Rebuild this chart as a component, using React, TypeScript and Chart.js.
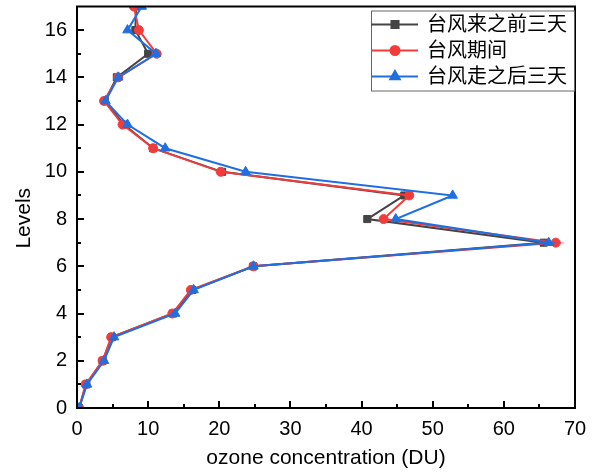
import React, { useEffect, useRef } from 'react';
import { Chart, registerables } from 'chart.js';
import { drawPoint } from 'chart.js/helpers';

Chart.register(...registerables);

// ---- data ----
const levels = [0, 1, 2, 3, 4, 5, 6, 7, 8, 9, 10, 11, 12, 13, 14, 15, 16, 17];
const beforeValues = [0.3, 1.3, 3.6, 4.9, 13.5, 16.2, 24.8, 65.6, 40.8, 46.0, 20.4, 10.7, 6.6, 3.9, 5.6, 10.0, 8.2, 8.3];
const duringValues = [0.3, 1.2, 3.6, 4.8, 13.4, 16.0, 24.8, 67.3, 43.1, 46.7, 20.2, 10.7, 6.4, 3.8, 5.8, 11.2, 8.7, 8.0];
const afterValues = [0.3, 1.4, 3.8, 5.2, 13.8, 16.4, 24.8, 66.3, 44.8, 52.8, 23.7, 12.4, 7.1, 4.0, 5.8, 11.1, 7.1, 9.1];
const seriesNames = ['台风来之前三天', '台风期间', '台风走之后三天'];
const xMajorTicks = [0, 10, 20, 30, 40, 50, 60, 70];
const xMinorTicks = [5, 15, 25, 35, 45, 55, 65];
const yMajorTicks = [0, 2, 4, 6, 8, 10, 12, 14, 16];
const yMinorTicks = [1, 3, 5, 7, 9, 11, 13, 15];
const xTitle = 'ozone concentration (DU)';
const yTitle = 'Levels';

const colors = ['#444444', '#f23c3c', '#1f6fe0'];
const pointStyles = ['rect', 'circle', 'triangle'];
const pointRadii = [5, 4.5, 5.5];

const FONT = '"Liberation Sans", Arial, sans-serif';
const CJK_FONT = '"Liberation Sans", "Noto Sans CJK SC", sans-serif';

const framePlugin = {
  id: 'frame',
  afterDatasetsDraw(chart: any) {
    const { ctx, chartArea, scales } = chart;
    const { left, right, top, bottom } = chartArea;
    const x = scales.x;
    const y = scales.y;
    ctx.save();
    ctx.strokeStyle = '#000';
    ctx.lineWidth = 2;
    ctx.beginPath();
    xMajorTicks.forEach((v) => {
      const px = Math.round(x.getPixelForValue(v));
      ctx.moveTo(px, bottom);
      ctx.lineTo(px, bottom - 7);
    });
    xMinorTicks.forEach((v) => {
      const px = Math.round(x.getPixelForValue(v));
      ctx.moveTo(px, bottom);
      ctx.lineTo(px, bottom - 4);
    });
    yMajorTicks.forEach((v) => {
      const py = Math.round(y.getPixelForValue(v));
      ctx.moveTo(left, py);
      ctx.lineTo(left + 7, py);
    });
    yMinorTicks.forEach((v) => {
      const py = Math.round(y.getPixelForValue(v));
      ctx.moveTo(left, py);
      ctx.lineTo(left + 4, py);
    });
    ctx.stroke();
    ctx.strokeRect(left, top, right - left, bottom - top);

    // y title
    ctx.fillStyle = '#000';
    ctx.font = `21px ${FONT}`;
    ctx.textAlign = 'center';
    ctx.textBaseline = 'middle';
    ctx.translate(24, (top + bottom) / 2 + 11);
    ctx.rotate(-Math.PI / 2);
    ctx.fillText(yTitle, 0, 0);
    ctx.restore();
  },
};

const legendPlugin = {
  id: 'boxLegend',
  afterDraw(chart: any) {
    const { ctx, chartArea } = chart;
    const boxW = 203;
    const boxH = 80;
    const bx = chartArea.right - boxW - 1;
    const by = chartArea.top + 4;
    ctx.save();
    ctx.fillStyle = '#fff';
    ctx.fillRect(bx, by, boxW, boxH);
    ctx.strokeStyle = '#666';
    ctx.lineWidth = 1;
    ctx.strokeRect(bx + 0.5, by + 0.5, boxW, boxH);
    chart.data.datasets.forEach((ds: any, i: number) => {
      const cy = by + 14 + i * 26;
      ctx.strokeStyle = ds.borderColor;
      ctx.lineWidth = 2;
      ctx.beginPath();
      ctx.moveTo(bx, cy);
      ctx.lineTo(bx + 47, cy);
      ctx.stroke();
      ctx.fillStyle = ds.pointBackgroundColor;
      ctx.strokeStyle = ds.pointBorderColor;
      drawPoint(ctx, { pointStyle: ds.pointStyle, radius: ds.pointRadius, rotation: 0, borderWidth: 1 }, bx + 24, cy);
      ctx.fillStyle = '#000';
      ctx.font = `20px ${CJK_FONT}`;
      ctx.textAlign = 'left';
      ctx.textBaseline = 'middle';
      ctx.fillText(ds.label, bx + 56, cy + 1);
    });
    ctx.restore();
  },
};

export default function App() {
  const canvasRef = useRef<HTMLCanvasElement | null>(null);

  useEffect(() => {
    document.body.style.margin = '0';
    const canvas = canvasRef.current;
    if (!canvas) return;
    const seriesValues = [beforeValues, duringValues, afterValues];
    const chart = new Chart(canvas, {
      type: 'scatter',
      data: {
        datasets: seriesValues.map((vals, i) => ({
          label: seriesNames[i],
          data: levels.map((lv, j) => ({ x: vals[j], y: lv })),
          showLine: true,
          order: 2 - i,
          borderColor: colors[i],
          backgroundColor: colors[i],
          pointBackgroundColor: colors[i],
          pointBorderColor: colors[i],
          pointStyle: pointStyles[i],
          pointRadius: pointRadii[i],
          pointBorderWidth: 1,
          borderWidth: 2,
          tension: 0,
        })),
      },
      options: {
        animation: false,
        responsive: false,
        layout: { padding: { top: 6, right: 17, left: 0, bottom: 0 } },
        plugins: {
          legend: { display: false },
          tooltip: { enabled: false },
        },
        scales: {
          x: {
            type: 'linear',
            min: 0,
            max: 70,
            afterFit: (s: any) => {
              s.height = 67;
              s.paddingLeft = 0;
              s.paddingRight = 0;
            },
            afterBuildTicks: (s: any) => {
              s.ticks = xMajorTicks.map((v) => ({ value: v }));
            },
            grid: { display: false, drawTicks: false },
            border: { display: false },
            ticks: {
              color: '#000',
              font: { family: FONT, size: 20 },
              padding: 9,
              maxRotation: 0,
              autoSkip: false,
            },
            title: {
              display: true,
              text: xTitle,
              color: '#000',
              font: { family: FONT, size: 21 },
              padding: { top: 0, bottom: 4 },
            },
          },
          y: {
            type: 'linear',
            min: 0,
            max: 17,
            afterFit: (s: any) => {
              s.width = 77;
              s.paddingTop = 0;
              s.paddingBottom = 0;
            },
            afterBuildTicks: (s: any) => {
              s.ticks = yMajorTicks.map((v) => ({ value: v }));
            },
            grid: { display: false, drawTicks: false },
            border: { display: false },
            ticks: {
              color: '#000',
              font: { family: FONT, size: 20 },
              padding: 10,
              autoSkip: false,
            },
            title: { display: false },
          },
        },
      },
      plugins: [framePlugin, legendPlugin],
    });
    return () => chart.destroy();
  }, []);

  return (
    <div style={{ width: 592, height: 475 }}>
      <canvas ref={canvasRef} width={592} height={475} style={{ width: 592, height: 475, display: 'block' }} />
    </div>
  );
}
